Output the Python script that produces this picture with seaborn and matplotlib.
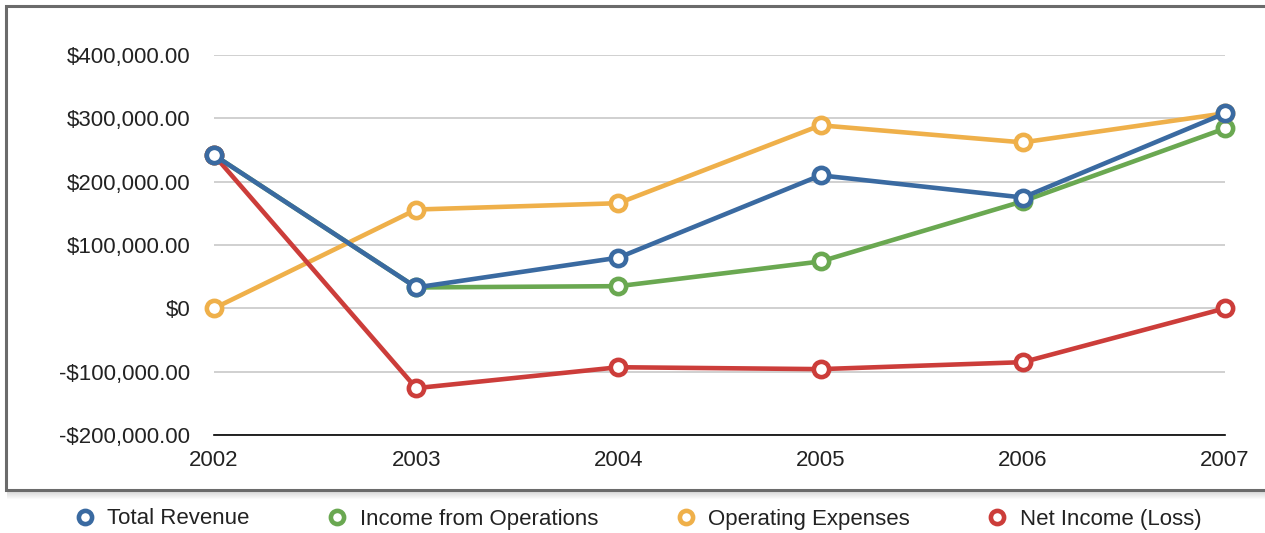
import matplotlib
matplotlib.use("Agg")
import matplotlib.pyplot as plt
import seaborn as sns
import pandas as pd
from matplotlib.lines import Line2D
from matplotlib.patches import Rectangle
from matplotlib.ticker import FuncFormatter

# data
years = [2002, 2003, 2004, 2005, 2006, 2007]
total_revenue = [242000, 33000, 80000, 210000, 175000, 308000]
income_ops = [242000, 33000, 35000, 74000, 169000, 284000]
operating_exp = [0, 156000, 166000, 289000, 262000, 308000]
net_income = [242000, -126000, -93000, -96000, -85000, 0]

series = ["Total Revenue", "Income from Operations", "Operating Expenses", "Net Income (Loss)"]
colors = ["#3a6aa1", "#6aa851", "#efb04a", "#cc3d3a"]

df = pd.DataFrame({
    "year": years * 4,
    "value": total_revenue + income_ops + operating_exp + net_income,
    "series": [s for s in series for _ in years],
})

sns.set_style("white")
plt.rcParams['font.family'] = ['Liberation Sans', 'DejaVu Sans']

fig = plt.figure(figsize=(12.65, 5.33), dpi=100)

# outer frame with a soft shadow
for i in range(8):
    fig.patches.append(Rectangle((7 / 1265, (43 - i) / 533 - 0.004), 1.0, 485 / 533,
                                 transform=fig.transFigure, facecolor="black",
                                 alpha=0.018, edgecolor="none", zorder=0))
fig.patches.append(Rectangle((6 / 1265, 43 / 533), 1.0, 484 / 533,
                             transform=fig.transFigure, facecolor="white",
                             edgecolor="#6b6b6b", linewidth=2.2, zorder=1))

ax = fig.add_axes([214 / 1265, 1 - 435 / 533, (1225 - 214) / 1265, (435 - 55) / 533])
ax.set_zorder(2)
ax.patch.set_alpha(0)

# draw order: green, orange, red, blue on top
order = [1, 2, 3, 0]
for k, i in enumerate(order):
    sub = df[df.series == series[i]]
    sns.lineplot(data=sub, x="year", y="value", ax=ax, color=colors[i], linewidth=3.3,
                 marker="o", markersize=11, markerfacecolor="white",
                 markeredgecolor=colors[i], markeredgewidth=3.3, clip_on=False,
                 zorder=3 + k, legend=False)

ax.set_xlim(2002, 2007)
ax.set_ylim(-200000, 400000)
ax.set_yticks([-200000, -100000, 0, 100000, 200000, 300000, 400000])
ax.set_xticks(years)


def money(v, pos):
    if v == 0:
        return "$0"
    s = "${:,.2f}".format(abs(v))
    return "-" + s if v < 0 else s


ax.yaxis.set_major_formatter(FuncFormatter(money))
ax.grid(axis="y", color="#c8c8c8", linewidth=1.2)
ax.grid(axis="x", visible=False)
for side in ["top", "right", "left"]:
    ax.spines[side].set_visible(False)
ax.spines["bottom"].set_color("black")
ax.spines["bottom"].set_linewidth(1.2)
ax.tick_params(axis="y", length=0, pad=17, labelsize=16, labelcolor="#222222")
ax.tick_params(axis="x", length=0, pad=11, labelsize=16, labelcolor="#222222")
ax.set_xlabel("")
ax.set_ylabel("")

handles = [Line2D([], [], linestyle="none", marker="o", markersize=9.5,
                  markerfacecolor="white", markeredgecolor=c, markeredgewidth=3.3)
           for c in colors]
fig.legend(handles, series, loc="center", bbox_to_anchor=(0.504, 1 - 519 / 533),
           ncol=4, frameon=False, fontsize=16, handlelength=1.0,
           handletextpad=0.5, columnspacing=3.45, labelcolor="#222222")

fig.savefig("out.png", dpi=100)
